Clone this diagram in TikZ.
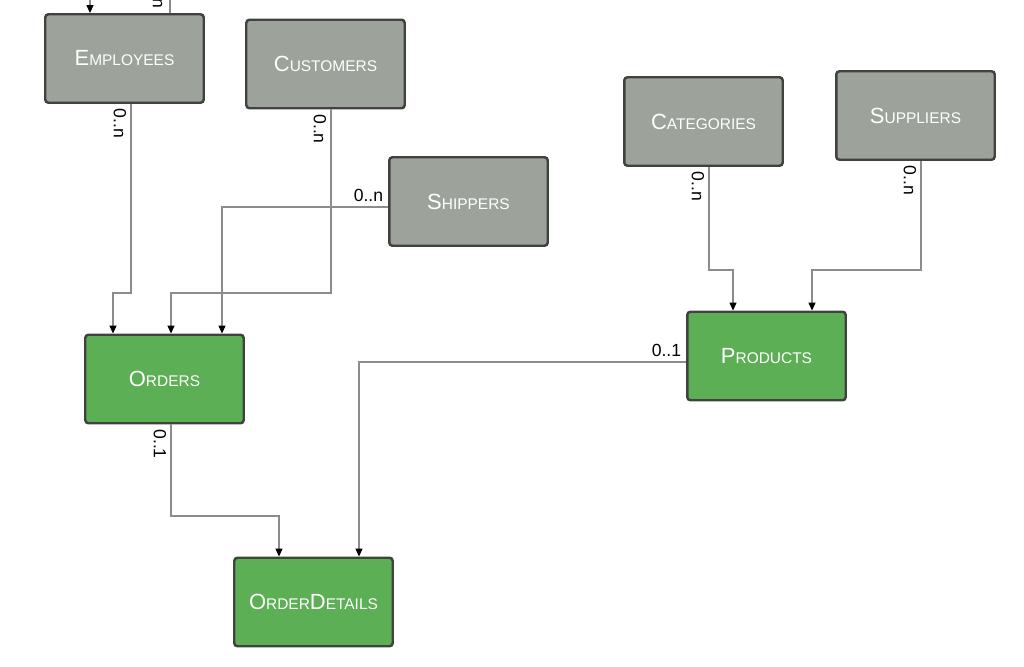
\documentclass[tikz,border=0pt]{standalone}
\usepackage{fontspec}
\setmainfont{Liberation Sans}
\usetikzlibrary{arrows.meta}

\definecolor{tblgray}{HTML}{9DA39A}
\definecolor{tblgreen}{HTML}{5DAF56}
\definecolor{tblborder}{HTML}{3F423E}
\definecolor{relgray}{HTML}{8C8C8C}

% table name in small capitals
\newcommand{\tname}[2]{{\fontsize{12.5}{14}\selectfont #1}{\fontsize{8.8}{10}\selectfont #2}}

\tikzset{
  tbl/.style={rectangle, rounded corners=1.8pt, draw=tblborder, line width=1.4pt,
    minimum width=3.17cm, minimum height=1.77cm, text=white},
  tblg/.style={tbl, fill=tblgray},
  tblv/.style={tbl, fill=tblgreen},
  rel/.style={draw=relgray, line width=0.6pt, -{Triangle[length=4.5pt,width=4pt,color=black]}},
  lbl/.style={font=\fontsize{10}{11}\selectfont, inner sep=2.5pt, text=black}
}

\begin{document}
\begin{tikzpicture}[x=0.02cm, y=-0.02cm]

		\useasboundingbox (0,0) rectangle (1024,666);
		\clip (0,0) rectangle (1024,666);

		\node(emp) at (124.5,58.5)[tblg]{\tname{E}{MPLOYEES}};
		\node(cust) at (325.5,64)[tblg]{\tname{C}{USTOMERS}};
		\node(ship) at (468.5,201.5)[tblg]{\tname{S}{HIPPERS}};
		\node(cat) at (703.5,121.5)[tblg]{\tname{C}{ATEGORIES}};
		\node(sup) at (915.5,115.5)[tblg]{\tname{S}{UPPLIERS}};
		\node(ord) at (164.5,379)[tblv]{\tname{O}{RDERS}};
		\node(prod) at (766.5,356)[tblv]{\tname{P}{RODUCTS}};
		\node(det) at (313.5,602)[tblv]{\tname{O}{RDER}\tname{D}{ETAILS}};

		\draw[rel] (emp.north -| 170,0) node(l0)[lbl, rotate=-90, anchor=north east]{0..n}
			-- (170,-30) -| (emp.north -| 90,0);
		\draw[rel] (emp.south -| 131,0) node(l1)[lbl, rotate=-90, anchor=north west]{0..n}
			-- (131,293) -| (ord.north -| 113,0);
		\draw[rel] (cust.south -| 331,0) node(l2)[lbl, rotate=-90, anchor=north west]{0..n}
			-- (331,293) -| (ord.north -| 171,0);
		\draw[rel] (ship.west |- 0,207) node(l3)[lbl, anchor=south east]{0..n}
			-| (ord.north -| 222,0);
		\draw[rel] (cat.south -| 709,0) node(l4)[lbl, rotate=-90, anchor=north west]{0..n}
			-- (709,270) -| (prod.north -| 733,0);
		\draw[rel] (sup.south -| 921,0) node(l5)[lbl, rotate=-90, anchor=north west]{0..n}
			-- (921,270) -| (prod.north -| 812,0);
		\draw[rel] (prod.west |- 0,362) node(l6)[lbl, anchor=south east]{0..1}
			-| (det.north -| 359,0);
		\draw[rel] (ord.south -| 171,0) node(l7)[lbl, rotate=-90, anchor=north west]{0..1}
			-- (171,516) -| (det.north -| 279,0);

	\end{tikzpicture}
\end{document}
